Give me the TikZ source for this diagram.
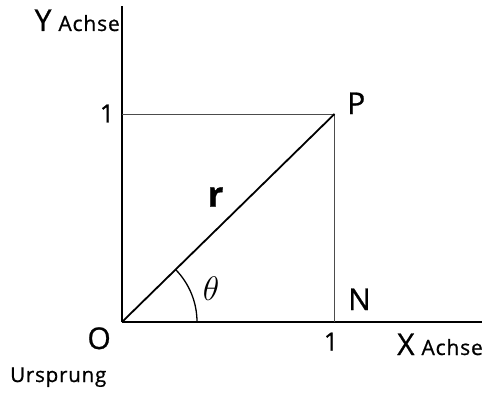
\RequirePackage{fix-cm}
\documentclass[tikz,border=0pt]{standalone}
\usepackage{fontspec}
\setmainfont{Open Sans}[LetterSpace=4,FakeBold=0.8]
\usepackage{amsmath}
\usetikzlibrary{positioning}

\tikzset{
  axis/.style={line width=1.3pt,black},
  guide/.style={line width=1pt,black!70},
  big/.style={font=\fontsize{30}{30}\selectfont,inner sep=0pt},
  small/.style={font=\fontsize{20.5}{20.5}\selectfont,inner sep=0pt},
  tick/.style={font=\fontsize{25}{25}\selectfont,inner sep=0pt}
}
\newcommand{\axlabel}[1]{{\fontsize{30}{30}\selectfont #1}\hspace{7pt}{\fontsize{21}{21}\selectfont Achse}}

\begin{document}
\begin{tikzpicture}[x=1pt,y=1pt]
\useasboundingbox (0,0) rectangle (493,392);
% points
\coordinate (O) at (122,70);
\coordinate (P) at (334.5,278);
\coordinate (N) at (334.5,70);
\coordinate (Q) at (122,278);
\coordinate (Ytop) at (122,386);
\coordinate (Xend) at (482,70);
% axes
\draw[axis] (O) -- (Ytop);
\draw[axis] (O) -- (Xend);
\draw[guide] (Q) -- (P) -- (N);
\draw[line width=1.8pt] (O) -- (P);
\draw[line width=1.3pt] ([xshift=75pt]O) arc[start angle=0,end angle=44.45,radius=75pt];
% labels
\node[anchor=base east,inner sep=0pt] (ylab) at (120,361) {\axlabel{Y}};
\node[tick,anchor=center] (one1) at (107,278.5) {1};
\node[big,anchor=base west] (plab) at (347,278) {P};
\node[big,anchor=base west] (nlab) at (348,82) {N};
\node[tick,anchor=base] (one2) at (331,41.5) {1};
\node[anchor=base west,inner sep=0pt] (xlab) at (397,37) {\axlabel{X}};
\node[big,anchor=base east] (olab) at (111,43) {O};
\node[small,anchor=base west] (ursp) at (10,10) {Ursprung};
\node[font=\fontsize{34}{34}\selectfont] (theta) at (211,103) {$\theta$};
\node[font=\fontsize{35}{35}\selectfont\bfseries] (rlab) at (215.5,195) {r};
\end{tikzpicture}
\end{document}
